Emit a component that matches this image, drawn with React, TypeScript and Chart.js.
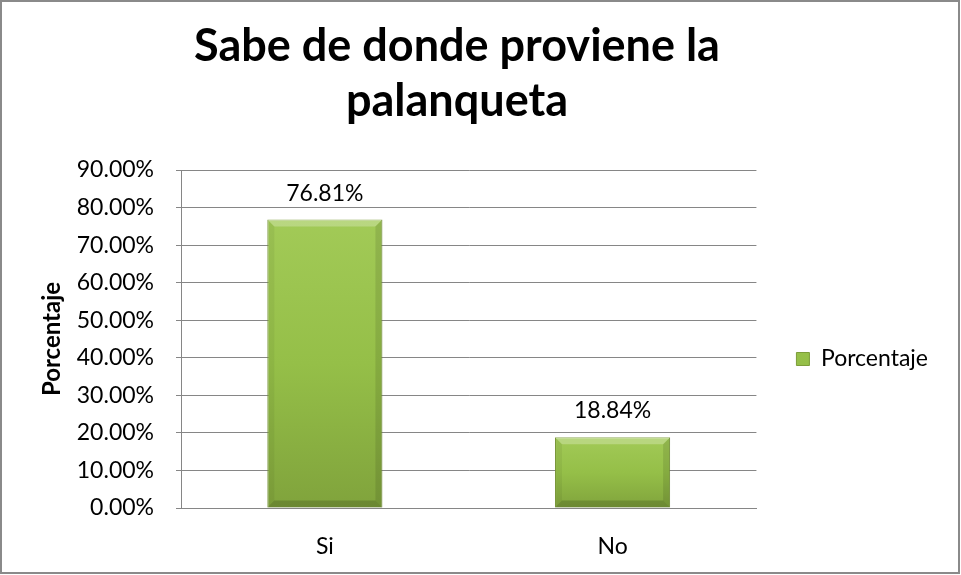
import React, { useEffect, useRef } from "react";
import { Chart, registerables } from "chart.js";

Chart.register(...registerables);

const TITLE_LINES = ["Sabe de donde proviene la", "palanqueta"];
const CATEGORIES = ["Si", "No"];
const SERIES_NAME = "Porcentaje";
const VALUES = [76.81, 18.84];
const Y_MIN = 0;
const Y_MAX = 90;
const Y_STEP = 10;
const AXIS_TITLE = "Porcentaje";

const FONT = "Lato, 'Open Sans', sans-serif";
const TXT = 23;

const valueLabels = {
  id: "valueLabels",
  afterDatasetsDraw(chart: any) {
    const ctx = chart.ctx;
    const meta = chart.getDatasetMeta(0);
    ctx.save();
    // soft bevel on each bar, from the bar element geometry
    meta.data.forEach((bar: any) => {
      const x0 = bar.x - bar.width / 2;
      const x1 = bar.x + bar.width / 2;
      const y0 = bar.y;
      const y1 = bar.base;
      const b = Math.min(7, (y1 - y0) / 3);
      const poly = (pts: number[][], color: string) => {
        ctx.beginPath();
        ctx.moveTo(pts[0][0], pts[0][1]);
        for (let k = 1; k < pts.length; k++) ctx.lineTo(pts[k][0], pts[k][1]);
        ctx.closePath();
        ctx.fillStyle = color;
        ctx.fill();
      };
      poly([[x0, y0], [x1, y0], [x1 - b, y0 + b], [x0 + b, y0 + b]], "rgba(255,255,255,0.25)");
      poly([[x0, y0], [x0 + b, y0 + b], [x0 + b, y1 - b], [x0, y1]], "rgba(0,0,0,0.05)");
      poly([[x1, y0], [x1, y1], [x1 - b, y1 - b], [x1 - b, y0 + b]], "rgba(0,0,0,0.10)");
      poly([[x0, y1], [x0 + b, y1 - b], [x1 - b, y1 - b], [x1, y1]], "rgba(0,0,0,0.16)");
    });
    ctx.font = `${TXT}px ${FONT}`;
    ctx.fillStyle = "#000";
    ctx.textAlign = "center";
    ctx.textBaseline = "alphabetic";
    meta.data.forEach((bar: any, i: number) => {
      const v = chart.data.datasets[0].data[i] as number;
      ctx.fillText(v.toFixed(2) + "%", bar.x, bar.y - 19);
    });
    ctx.restore();
  },
};

function barFill(c: any) {
  const solid = "#8DB443";
  if (c.type !== "data") return solid;
  const chart = c.chart;
  const ys = chart.scales && chart.scales.y;
  if (!ys) return solid;
  const top = ys.getPixelForValue(c.raw);
  const base = ys.getPixelForValue(0);
  if (!isFinite(top) || !isFinite(base) || top === base) return solid;
  const g = chart.ctx.createLinearGradient(0, top, 0, base);
  g.addColorStop(0, "#A2CA57");
  g.addColorStop(0.5, "#95BF48");
  g.addColorStop(1, "#80A33C");
  return g;
}

export default function App() {
  const ref = useRef<HTMLCanvasElement>(null);
  useEffect(() => {
    if (!ref.current) return;
    const chart = new Chart(ref.current, {
      type: "bar",
      data: {
        labels: CATEGORIES,
        datasets: [
          {
            label: SERIES_NAME,
            data: VALUES,
            backgroundColor: barFill as any,
            borderColor: "#7D9D3A",
            borderWidth: 1,
            barPercentage: 0.4,
            categoryPercentage: 1,
          },
        ],
      },
      options: {
        responsive: false,
        animation: false,
        devicePixelRatio: 1,
        layout: { padding: { left: -24, right: 23, top: 0, bottom: 12 } },
        plugins: {
          title: {
            display: true,
            text: TITLE_LINES,
            color: "#000",
            font: { family: FONT, size: 45, weight: "bold", lineHeight: 55 / 45 },
            padding: { top: 19, bottom: 41 },
          },
          legend: {
            display: true,
            position: "right",
            align: "center",
            fullSize: false,
            title: {
              display: true,
              text: " ",
              font: { family: FONT, size: 10, lineHeight: 1 },
              padding: { top: 0, bottom: 30 },
            },
            labels: {
              boxWidth: 13,
              boxHeight: 13,
              padding: 40,
              color: "#000",
              font: { family: FONT, size: TXT },
            },
          },
          tooltip: { enabled: false },
        },
        scales: {
          x: {
            grid: { display: false },
            border: { display: true, color: "#868686", width: 1 },
            ticks: { color: "#000", font: { family: FONT, size: TXT }, padding: 17 },
            afterFit: (s: any) => {
              s.height = 55;
            },
          },
          y: {
            min: Y_MIN,
            max: Y_MAX,
            ticks: {
              stepSize: Y_STEP,
              color: "#000",
              font: { family: FONT, size: TXT },
              padding: 22,
              callback: (v: any) => Number(v).toFixed(2) + "%",
            },
            grid: { color: "#868686", lineWidth: 1, tickLength: 5, drawTicks: true },
            border: { display: true, color: "#868686", width: 1 },
            title: {
              display: true,
              text: AXIS_TITLE,
              color: "#000",
              font: { family: FONT, size: 24, weight: "bold" },
              padding: { top: 62, bottom: 0 },
            },
            afterFit: (s: any) => {
              s.width = 205;
            },
          },
        },
      },
      plugins: [valueLabels],
    });
    return () => chart.destroy();
  }, []);

  return (
    <div style={{ position: "absolute", left: 0, top: 0, width: 961, height: 575, background: "#fff" }}>
      <canvas ref={ref} width={961} height={575} style={{ position: "absolute", left: 0, top: 0 }} />
      <div
        style={{
          position: "absolute",
          left: 0,
          top: 0,
          width: 960,
          height: 574,
          border: "2px solid #8a8a8a",
          boxSizing: "border-box",
          pointerEvents: "none",
        }}
      />
    </div>
  );
}
